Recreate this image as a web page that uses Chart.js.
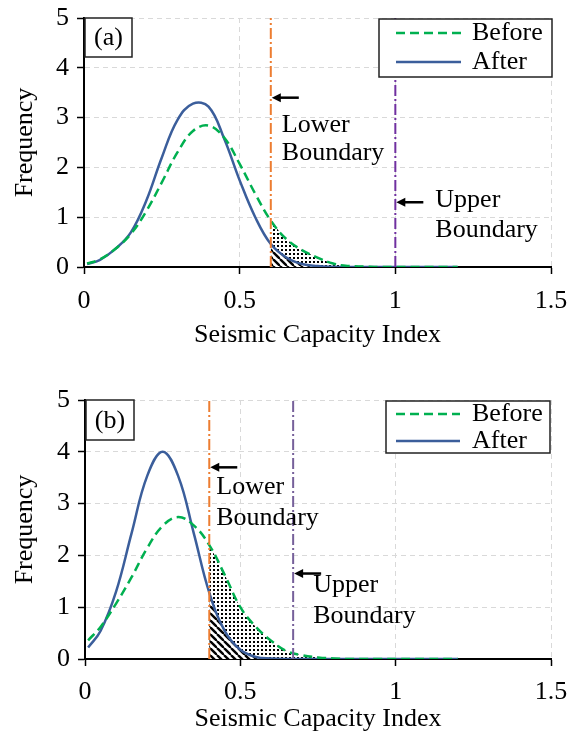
<!DOCTYPE html>
<html><head><meta charset="utf-8">
<script src="https://cdn.jsdelivr.net/npm/chart.js@4/dist/chart.umd.min.js"></script>
<style>
html,body{margin:0;padding:0;background:#fff;overflow:hidden;width:577px;height:735px}
.w{position:absolute;left:0;width:577px}
</style></head><body>
<div class="w" style="top:0;height:368px"><canvas id="c1" width="577" height="368"></canvas></div>
<div class="w" style="top:368px;height:380px"><canvas id="c2" width="577" height="380"></canvas></div>
<script>
// ---------- data ----------
const xValues = [0.01,0.05,0.10,0.15,0.20,0.25,0.30,0.35,0.40,0.45,0.50,0.55,0.60,0.65,0.70,0.75,0.80,0.85,0.90,0.95,1.00,1.05,1.10,1.15,1.20];
const beforeA = [0.07,0.15,0.36,0.66,1.12,1.70,2.30,2.73,2.84,2.60,2.07,1.47,0.93,0.56,0.34,0.19,0.07,0.02,0.01,0,0,0,0,0,0];
const afterA  = [0.06,0.14,0.36,0.69,1.33,2.20,2.95,3.28,3.22,2.58,1.74,1.00,0.46,0.19,0.06,0.02,0.005,0,0,0,0,0,0,0,0];
const beforeB = [0.36,0.62,1.07,1.58,2.14,2.57,2.74,2.58,2.20,1.62,1.00,0.62,0.35,0.15,0.07,0.03,0.01,0,0,0,0,0,0,0,0];
const afterB  = [0.22,0.54,1.30,2.43,3.53,4.00,3.53,2.43,1.28,0.54,0.18,0.04,0.01,0,0,0,0,0,0,0,0,0,0,0,0];
const seriesNames = ['Before','After'];
const panelLabels = ['(a)','(b)'];
const lowerBoundary = [0.6, 0.4];
const upperBoundary = [1.0, 0.67];
const xTicks = [0, 0.5, 1, 1.5];
const yTicks = [0, 1, 2, 3, 4, 5];
const xTitle = 'Seismic Capacity Index';
const yTitle = 'Frequency';
const lowerText = ['Lower','Boundary'];
const upperText = ['Upper','Boundary'];

// ---------- styles ----------
const FONT = 'Liberation Serif, Times New Roman, serif';
const GREEN = '#00B050', BLUE = '#3B5E9B', ORANGE = '#ED7D31';
const PURPLES = ['#7030A0', '#76609A'];

function dotPattern(){
  const c=document.createElement('canvas'); c.width=4; c.height=4;
  const g=c.getContext('2d'); g.fillStyle='#fff'; g.fillRect(0,0,4,4);
  g.fillStyle='#000'; g.fillRect(1,1,2,2);
  return g.createPattern(c,'repeat');
}
function stripePattern(){
  const s=7; const c=document.createElement('canvas'); c.width=s; c.height=s;
  const g=c.getContext('2d'); g.fillStyle='#fff'; g.fillRect(0,0,s,s);
  g.strokeStyle='#000'; g.lineWidth=2.4;
  for(const k of [-s,0,s]){ g.beginPath(); g.moveTo(k,0); g.lineTo(k+s,s); g.stroke(); }
  return g.createPattern(c,'repeat');
}

const panels = [
  {canvas:'c1', before:beforeA, after:afterA, pad:{top:18,left:0,right:26,bottom:17}, yWidth:84, xHeight:84, tickPad:12,
   legend:{w:173,h:58,dy:1,dx:1,row:[14,43],sx:[17,82],tx:93},
   label:{w:47,h:39},
   ann:[{y:3.4,dx:11,dy:[27,55]},{y:1.3,dx:40,dy:[-2,28]}]},
  {canvas:'c2', before:beforeB, after:afterB, pad:{top:32,left:0,right:26,bottom:13}, yWidth:85, xHeight:76, tickPad:11,
   legend:{w:164,h:52,dy:1,dx:-1,row:[13,40],sx:[10,74],tx:86},
   label:{w:48,h:40},
   ann:[{y:3.7,dx:7,dy:[20,51]},{y:1.65,dx:20,dy:[11.5,43]}]}
];

function dashLine(ctx,x1,y1,x2,y2,color,width,dash){
  ctx.save(); ctx.strokeStyle=color; ctx.lineWidth=width; ctx.setLineDash(dash);
  ctx.beginPath(); ctx.moveTo(x1,y1); ctx.lineTo(x2,y2); ctx.stroke(); ctx.restore();
}
function arrow(ctx,x,y){
  ctx.save(); ctx.strokeStyle='#000'; ctx.fillStyle='#000'; ctx.lineWidth=2.5;
  ctx.beginPath(); ctx.moveTo(x+6,y); ctx.lineTo(x+28,y); ctx.stroke();
  ctx.beginPath(); ctx.moveTo(x+1,y); ctx.lineTo(x+10,y-4.5); ctx.lineTo(x+10,y+4.5); ctx.closePath(); ctx.fill();
  ctx.restore();
}

panels.forEach((p, idx) => {
  const pts = arr => xValues.map((x,i)=>({x, y:arr[i]}));
  const lb = lowerBoundary[idx], ub = upperBoundary[idx];
  const tail = arr => pts(arr).filter(q => q.x >= lb - 1e-9);
  const overlay = {
    id:'overlay'+idx,
    afterDatasetsDraw(chart){
      const ctx=chart.ctx, xs=chart.scales.x, ys=chart.scales.y, ca=chart.chartArea;
      const y0=ys.getPixelForValue(0), y5=ys.getPixelForValue(5);
      const xl=xs.getPixelForValue(lb), xu=xs.getPixelForValue(ub);
      dashLine(ctx,xl,y0,xl,y5,ORANGE,2,[11,3,2,3]);
      dashLine(ctx,xu,y0,xu,y5,PURPLES[idx],2,[11,3,2,3]);
      ctx.save(); ctx.font='26px '+FONT; ctx.fillStyle='#000'; ctx.textAlign='left'; ctx.textBaseline='middle';
      [[xl,p.ann[0],lowerText],[xu,p.ann[1],upperText]].forEach(([bx,a,txt])=>{
        const ay=ys.getPixelForValue(a.y);
        arrow(ctx,bx,ay);
        ctx.fillText(txt[0],bx+a.dx,ay+a.dy[0]);
        ctx.fillText(txt[1],bx+a.dx,ay+a.dy[1]);
      });
      ctx.restore();
      const L=p.legend, lx=ca.right+L.dx-L.w, ly=ca.top+L.dy;
      ctx.save(); ctx.fillStyle='#fff'; ctx.fillRect(lx,ly,L.w,L.h);
      ctx.strokeStyle='#222'; ctx.lineWidth=1.5; ctx.strokeRect(lx,ly,L.w,L.h);
      dashLine(ctx,lx+L.sx[0],ly+L.row[0],lx+L.sx[1],ly+L.row[0],GREEN,2.5,[9,5]);
      dashLine(ctx,lx+L.sx[0],ly+L.row[1],lx+L.sx[1],ly+L.row[1],BLUE,2.5,[]);
      ctx.font='26px '+FONT; ctx.fillStyle='#000'; ctx.textBaseline='middle'; ctx.textAlign='left';
      ctx.fillText(seriesNames[0],lx+L.tx,ly+L.row[0]);
      ctx.fillText(seriesNames[1],lx+L.tx,ly+L.row[1]);
      const B=p.label, bx=ca.left+1, by=ca.top;
      ctx.fillStyle='#fff'; ctx.fillRect(bx,by,B.w,B.h);
      ctx.strokeStyle='#222'; ctx.lineWidth=1.5; ctx.strokeRect(bx,by,B.w,B.h);
      ctx.fillStyle='#000'; ctx.textAlign='center';
      ctx.fillText(panelLabels[idx],bx+B.w/2,by+B.h/2+1);
      ctx.restore();
    }
  };
  const font = {family:FONT, size:26};
  const lineCommon = {pointRadius:0, tension:0.4};
  new Chart(document.getElementById(p.canvas), {
    type:'line',
    data:{datasets:[
      Object.assign({label:seriesNames[0], data:pts(p.before), borderColor:GREEN, borderWidth:2.5, borderDash:[9,5], fill:false}, lineCommon),
      Object.assign({label:seriesNames[1], data:pts(p.after), borderColor:BLUE, borderWidth:2.5, fill:false}, lineCommon),
      Object.assign({label:'afterTail', data:tail(p.after), borderWidth:0, borderColor:'rgba(0,0,0,0)', backgroundColor:stripePattern(), fill:'origin'}, lineCommon),
      Object.assign({label:'beforeTail', data:tail(p.before), borderWidth:0, borderColor:'rgba(0,0,0,0)', backgroundColor:dotPattern(), fill:'origin'}, lineCommon)
    ]},
    options:{
      responsive:false, animation:false, devicePixelRatio:1,
      layout:{padding:p.pad},
      plugins:{legend:{display:false}, tooltip:{enabled:false}},
      scales:{
        x:{type:'linear', min:0, max:1.5,
          afterBuildTicks:s=>{s.ticks=xTicks.map(v=>({value:v}));},
          afterFit:s=>{s.height=p.xHeight; s.paddingLeft=0; s.paddingRight=0;},
          ticks:{font, color:'#000', padding:p.tickPad, maxRotation:0, autoSkip:false, callback:v=>String(v)},
          grid:{color:'#d9d9d9', lineWidth:1, tickColor:'#000', tickLength:7, tickWidth:1.5},
          border:{color:'#000', width:2, dash:[5,4]},
          title:{display:true, text:xTitle, font, color:'#000', padding:{top:0,bottom:0}}},
        y:{type:'linear', min:0, max:5,
          afterBuildTicks:s=>{s.ticks=yTicks.map(v=>({value:v}));},
          afterFit:s=>{s.width=p.yWidth; s.paddingTop=0; s.paddingBottom=0;},
          ticks:{font, color:'#000', padding:8, callback:v=>String(v)},
          grid:{color:'#d9d9d9', lineWidth:1, tickColor:'#000', tickLength:7, tickWidth:1.5},
          border:{color:'#000', width:2, dash:[5,4]},
          title:{display:true, text:yTitle, font, color:'#000', padding:{top:10,bottom:0}}}
      }
    },
    plugins:[overlay]
  });
});
</script>
</body></html>
